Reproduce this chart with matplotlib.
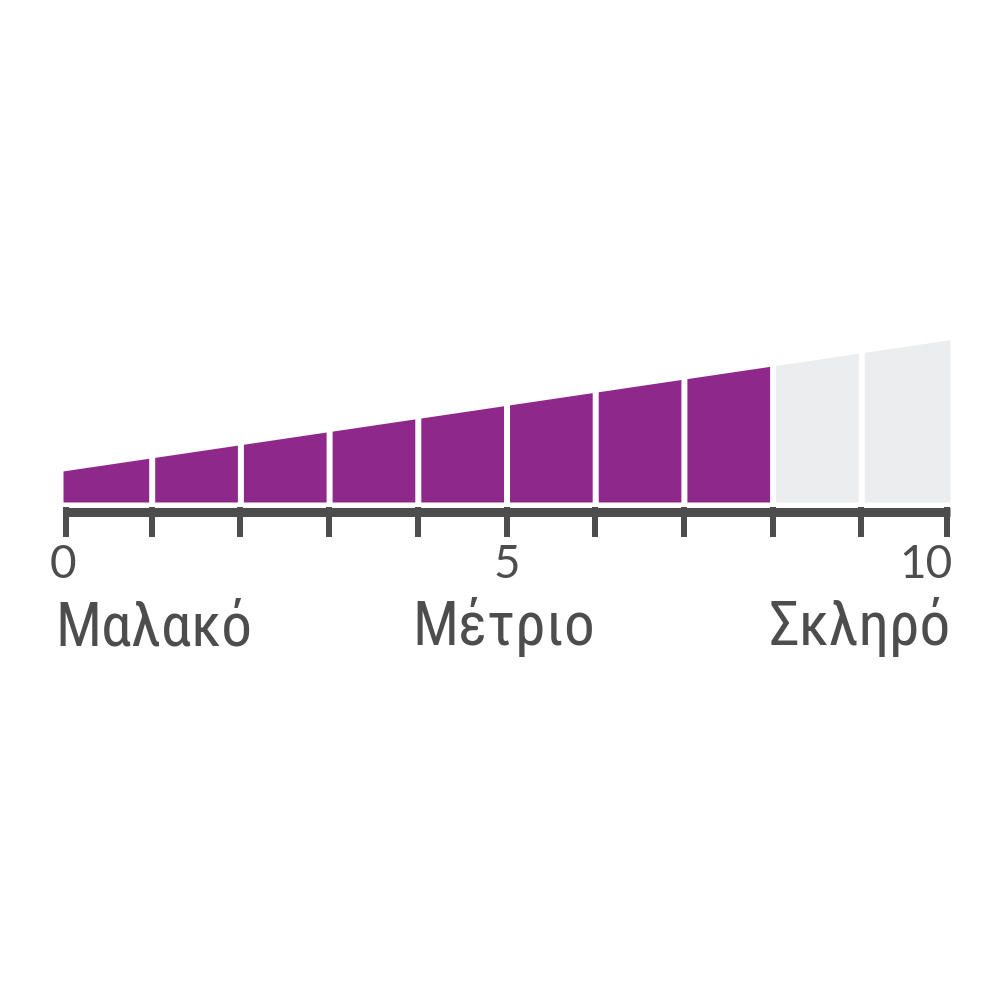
import numpy as np
import matplotlib
matplotlib.use("Agg")
from matplotlib import pyplot as plt
from matplotlib import font_manager

# scale 0..10, product sits at 8
positions = list(range(11))
level = 8
ramp = [0.35, 1.83]          # wedge height at 0 and at 10
tick_labels = ["0", "5", "10"]
tick_label_pos = [0, 5, 10]
words = ["Μαλακό", "Μέτριο", "Σκληρό"]

purple = "#8E288B"
empty = "#ECEDEF"
dark = "#4D4D4D"

names = set(f.name for f in font_manager.fontManager.ttflist)
word_font = [n for n in ["Liberation Sans Narrow", "Roboto Condensed", "Open Sans Condensed"] if n in names] + ["DejaVu Sans"]
digit_font = [n for n in ["Lato", "Open Sans"] if n in names] + ["DejaVu Sans"]

unit = 88.7  # px per scale step
x0 = 63
base = 502
fig = plt.figure(figsize=(10, 10), dpi=100)
ax = fig.add_axes([0, 0, 1, 1])
ax.set_xlim(-x0 / unit, (1000 - x0) / unit)
ax.set_ylim(-(1000 - base) / unit, base / unit)
ax.axis("off")

gap = 6 / unit
n = len(positions) - 1
for i in range(n):
    left = i + (gap / 2 if i > 0 else 0)
    right = i + 1 - (gap / 2 if i < n - 1 else 0)
    xs = np.array([left, right])
    tops = np.interp(xs, [positions[0], positions[-1]], ramp)
    ax.fill_between(xs, 0, tops, color=purple if i < level else empty, linewidth=0)

# axis line and ticks
ly = -9.8 / unit
ax.plot([0, 10], [ly, ly], color=dark, lw=9 * 0.72, solid_capstyle="butt")
tw = 6 / unit
for p in positions:
    xp = min(max(p, tw / 2), 10 - tw / 2)
    ax.plot([xp, xp], [-5 / unit, -35 / unit], color=dark, lw=6 * 0.72, solid_capstyle="butt")

aligns = ["center", "center", "right"]
for lab, p, ha in zip(tick_labels, tick_label_pos, aligns):
    xp = p + (2 / unit if ha == "right" else 0)
    ax.text(xp, -76 / unit, lab, ha=ha, va="baseline", fontsize=33,
            family=digit_font, fontweight="normal", color=dark)

waligns = ["left", "center", "right"]
wx = [-8 / unit, 5 - 3 / unit, 10 + 1 / unit]
for w, xp, ha in zip(words, wx, waligns):
    ax.text(xp, -143 / unit, w, ha=ha, va="baseline", fontsize=44,
            family=word_font, color=dark)

fig.savefig("out.png", dpi=100, facecolor="white")
